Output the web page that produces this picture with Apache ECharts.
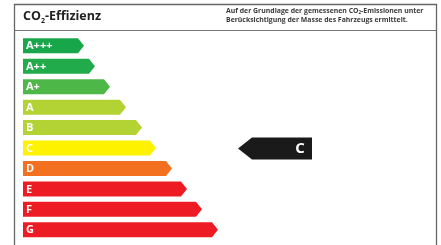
<!DOCTYPE html>
<html>
<head>
<meta charset="utf-8">
<script src="https://cdn.jsdelivr.net/npm/echarts@6/dist/echarts.min.js"></script>
<style>
  html, body { margin: 0; padding: 0; background: #fff; }
  #chart { width: 441px; height: 245px; }
</style>
</head>
<body>
<div id="chart"></div>
<script>
// efficiency classes, top to bottom
const classes = ['A+++', 'A++', 'A+', 'A', 'B', 'C', 'D', 'E', 'F', 'G']
// arrow length of each class (tip position on the x scale)
const lengths = [61, 72, 87, 103, 119, 133, 149, 164, 179, 195]
const classColors = ['#17a74a', '#22ab4b', '#4db748', '#b3d334', '#b3d334',
  '#fff200', '#f37021', '#ed1c24', '#ed1c24', '#ed1c24']
// the vehicle's rating and the span of its marker arrow on the x scale
const rating = 'C'
const ratingSpan = [215, 289]

const chart = echarts.init(document.getElementById('chart'))

const arrowData = classes.map((c, i) => ({
  value: [lengths[i], i],
  itemStyle: { color: classColors[i] }
}))

const option = {
  animation: false,
  grid: { left: 23, right: 0, top: 35.6, bottom: 5 },
  xAxis: { type: 'value', min: 0, max: 418, show: false },
  yAxis: { type: 'category', data: classes, inverse: true, show: false },
  graphic: [
    { type: 'line', shape: { x1: 14, y1: 4.5, x2: 437, y2: 4.5 }, style: { stroke: '#666', lineWidth: 1.3 } },
    { type: 'line', shape: { x1: 14, y1: 30.5, x2: 437, y2: 30.5 }, style: { stroke: '#777', lineWidth: 1 } },
    { type: 'line', shape: { x1: 14.5, y1: 4, x2: 14.5, y2: 245 }, style: { stroke: '#666', lineWidth: 1.3 } },
    { type: 'line', shape: { x1: 436.5, y1: 4, x2: 436.5, y2: 245 }, style: { stroke: '#666', lineWidth: 1.3 } },
    {
      type: 'text', left: 23, top: 10,
      style: {
        text: '{a|CO}{s|2}{a|-Effizienz}',
        rich: {
          a: { font: 'bold 12.5px "Open Sans"', fill: '#222' },
          s: { font: 'bold 7px "Open Sans"', fill: '#222', padding: [8, 0, 0, 0] }
        }
      }
    },
    {
      type: 'text', left: 226, top: 7,
      style: {
        text: '{a|Auf der Grundlage der gemessenen CO}{s|2}{a|-Emissionen unter}\n{a|Berücksichtigung der Masse des Fahrzeugs ermittelt.}',
        rich: {
          a: { font: 'bold 6.9px "Open Sans"', fill: '#3a3a3a', lineHeight: 9 },
          s: { font: 'bold 4.5px "Open Sans"', fill: '#3a3a3a', lineHeight: 9, padding: [3, 0, 0, 0] }
        }
      }
    }
  ],
  series: [
    {
      type: 'custom',
      encode: { x: 0, y: 1 },
      data: arrowData,
      renderItem(params, api) {
        const idx = api.value(1)
        const start = api.coord([0, idx])
        const tip = api.coord([api.value(0), idx])
        const h = api.size([0, 1])[1] * 0.735
        const d = h * 0.4
        const y0 = start[1] - h / 2
        const y1 = start[1] + h / 2
        return {
          type: 'group',
          children: [
            {
              type: 'polygon',
              shape: { points: [[start[0], y0], [tip[0] - d, y0], [tip[0], start[1]], [tip[0] - d, y1], [start[0], y1]] },
              style: { fill: api.visual('color') }
            },
            {
              type: 'text',
              x: start[0] + 3, y: start[1] + 0.5,
              style: { text: classes[idx], fill: '#fff', font: 'bold 11px "Open Sans"', verticalAlign: 'middle' }
            }
          ]
        }
      }
    },
    {
      type: 'custom',
      encode: { x: 0, y: 2 },
      data: [[ratingSpan[0], ratingSpan[1], classes.indexOf(rating)]],
      renderItem(params, api) {
        const idx = api.value(2)
        const a = api.coord([api.value(0), idx])
        const b = api.coord([api.value(1), idx])
        const h = 22
        const d = 14
        const cy = a[1] + 0.5
        return {
          type: 'group',
          children: [
            {
              type: 'polygon',
              shape: { points: [[a[0], cy], [a[0] + d, cy - h / 2], [b[0], cy - h / 2], [b[0], cy + h / 2], [a[0] + d, cy + h / 2]] },
              style: { fill: '#1a1a1a' }
            },
            {
              type: 'text',
              x: b[0] - 12, y: cy,
              style: { text: rating, fill: '#fff', font: 'bold 15px "Open Sans"', align: 'center', verticalAlign: 'middle' }
            }
          ]
        }
      }
    }
  ]
}

chart.setOption(option)
</script>
</body>
</html>
